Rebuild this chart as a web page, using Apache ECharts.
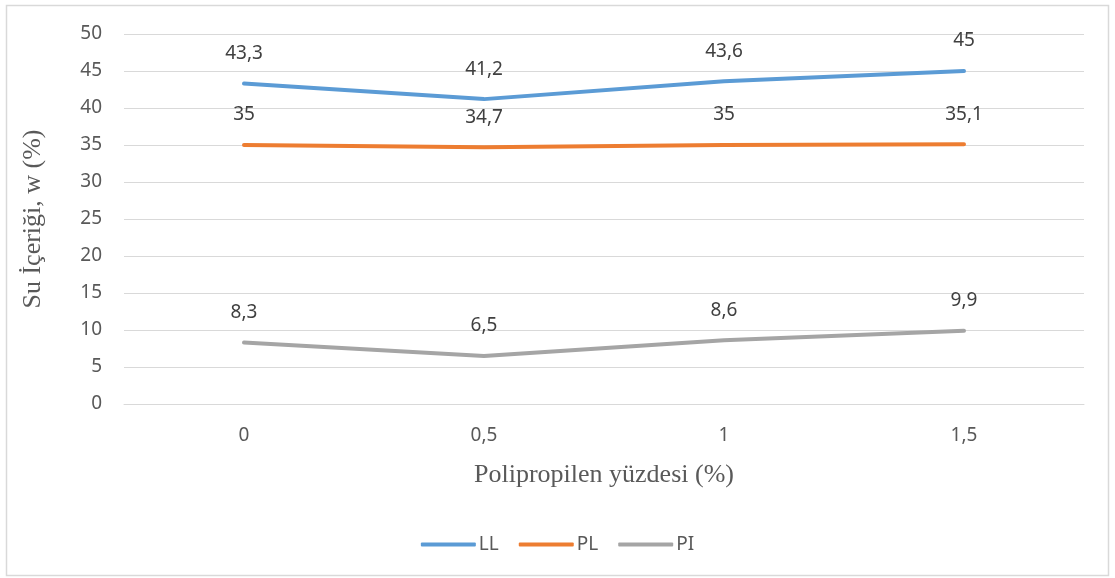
<!DOCTYPE html>
<html><head><meta charset="utf-8">
<script src="https://cdn.jsdelivr.net/npm/echarts@6/dist/echarts.min.js"></script>
<style>html,body{margin:0;padding:0;background:#fff}#c{width:1115px;height:578px}</style>
</head><body><div id="c"></div>
<script>
var categories = ['0', '0,5', '1', '1,5'];
var seriesNames = ['LL', 'PL', 'PI'];
var LL = [43.3, 41.2, 43.6, 45];
var PL = [35, 34.7, 35, 35.1];
var PI = [8.3, 6.5, 8.6, 9.9];
var colors = ['#5B9BD5', '#ED7D31', '#A5A5A5'];
var chart = echarts.init(document.getElementById('c'));
function fmt(v){ return String(v.value).replace('.', ','); }
function mk(name, data, color){
  return {
    name: name, type: 'line', data: data, symbol: 'circle', symbolSize: 0.01, showSymbol: true,
    lineStyle: {width: 4, color: color, cap: 'round', join: 'round'},
    itemStyle: {color: color},
    label: {show: true, position: 'top', distance: 20.5, color: '#404040', fontSize: 19, fontFamily: 'Noto Sans', formatter: fmt},
    emphasis: {disabled: true}
  };
}
chart.setOption({
  animation: false,
  graphic: [{type: 'rect', shape: {x: 6.5, y: 5.5, width: 1102, height: 570}, style: {fill: 'none', stroke: '#D9D9D9', lineWidth: 1.5}, silent: true}],
  grid: {left: 124, right: 31, top: 34, bottom: 174},
  xAxis: {
    type: 'category', data: categories, boundaryGap: true,
    axisLine: {show: true, lineStyle: {color: '#D9D9D9', width: 1}},
    axisTick: {show: false},
    axisLabel: {color: '#595959', fontSize: 19, fontFamily: 'Noto Sans', margin: 22},
    name: 'Polipropilen yüzdesi (%)', nameLocation: 'middle', nameGap: 58,
    nameTextStyle: {color: '#595959', fontSize: 26, fontFamily: 'Liberation Serif'}
  },
  yAxis: {
    type: 'value', min: 0, max: 50, interval: 5,
    axisLine: {show: false}, axisTick: {show: false},
    splitLine: {lineStyle: {color: '#D9D9D9', width: 1}},
    axisLabel: {color: '#595959', fontSize: 19, fontFamily: 'Noto Sans', margin: 22},
    name: 'Su İçeriği, w (%)', nameLocation: 'middle', nameGap: 78, nameRotate: 90,
    nameTextStyle: {color: '#595959', fontSize: 26, fontFamily: 'Liberation Serif'}
  },
  legend: {
    data: seriesNames, bottom: 19, left: 'center', itemWidth: 55, itemHeight: 4, itemGap: 20,
    icon: 'roundRect',
    textStyle: {color: '#595959', fontSize: 19, fontFamily: 'Noto Sans', padding: [0,0,0,-2]}
  },
  series: [mk('LL', LL, colors[0]), mk('PL', PL, colors[1]), mk('PI', PI, colors[2])]
});
</script></body></html>
